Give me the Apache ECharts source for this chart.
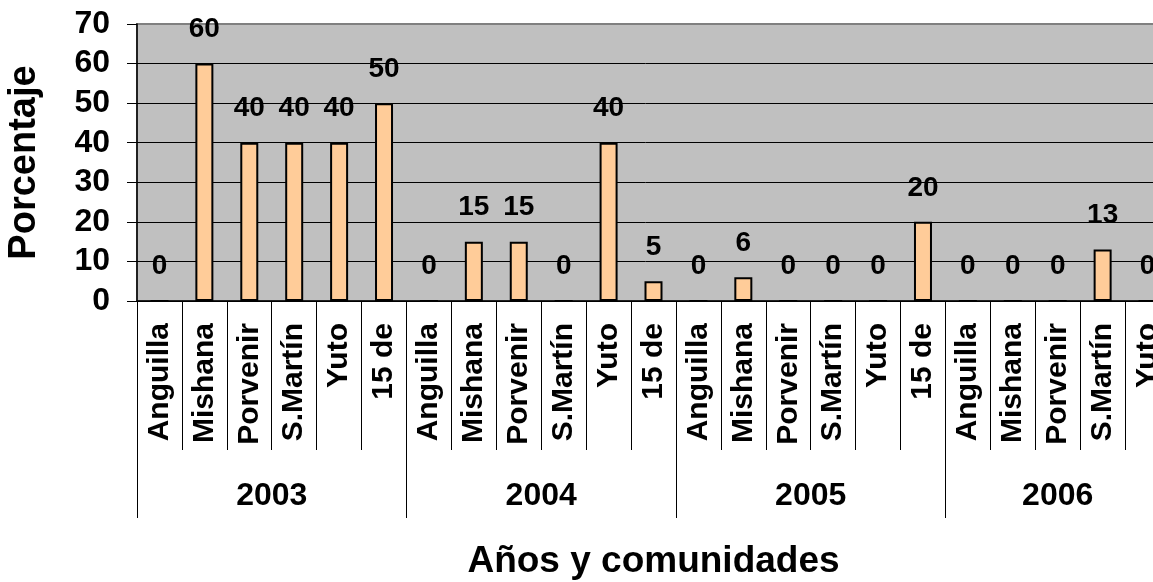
<!DOCTYPE html>
<html>
<head>
<meta charset="utf-8">
<script src="https://cdn.jsdelivr.net/npm/echarts@6/dist/echarts.min.js"></script>
<style>
html,body{margin:0;padding:0;background:#fff;overflow:hidden;}
#chart{width:1153px;height:582px;}
</style>
</head>
<body>
<div id="chart"></div>
<script>
// ---- data ----
const years = ['2003', '2004', '2005', '2006'];
const communities = ['Anguilla', 'Mishana', 'Porvenir', 'S.Martín', 'Yuto', '15 de'];
const values2003 = [0, 60, 40, 40, 40, 50];
const values2004 = [0, 15, 15, 0, 40, 5];
const values2005 = [0, 6, 0, 0, 0, 20];
const values2006 = [0, 0, 0, 13, 0];
const yTicks = [0, 10, 20, 30, 40, 50, 60, 70];

// ---- build ----
const valueGroups = [values2003, values2004, values2005, values2006];
const categories = [];
const values = [];
const boundaries = [0];
const centers = [];
const centerYear = {};
valueGroups.forEach((g, i) => {
  const start = boundaries[boundaries.length - 1];
  g.forEach((v, j) => { categories.push(communities[j]); values.push(v); });
  const end = start + g.length;
  boundaries.push(end);
  const c = (start + end) / 2;
  centers.push(c);
  centerYear[c] = years[i];
});
const total = categories.length;

const FONT = "'Liberation Sans', Arial, sans-serif";
const chart = echarts.init(document.getElementById('chart'), null, {renderer: 'canvas'});
chart.setOption({
  animation: false,
  backgroundColor: '#ffffff',
  grid: {
    left: 137, top: 24, width: 1033, height: 277,
    containLabel: false,
    outerBoundsMode: 'none',
    show: true, backgroundColor: '#C0C0C0',
    borderColor: '#808080', borderWidth: 2
  },
  xAxis: [
    {
      type: 'category',
      data: categories,
      boundaryGap: true,
      position: 'bottom',
      axisLine: {show: true, lineStyle: {color: '#000', width: 1.5}},
      axisTick: {show: true, alignWithLabel: false, inside: false, length: 149, interval: 0, lineStyle: {color: '#000', width: 1}},
      axisLabel: {interval: 0, rotate: 90, margin: 22, fontSize: 30, fontWeight: 'bold', color: '#000', fontFamily: FONT},
      splitLine: {show: false}
    },
    {
      type: 'value',
      min: 0, max: total,
      position: 'bottom',
      axisLine: {show: false},
      axisTick: {show: true, length: 217, customValues: boundaries, lineStyle: {color: '#000', width: 1}},
      axisLabel: {
        show: true, customValues: centers, margin: 179,
        fontSize: 32, fontWeight: 'bold', color: '#000', fontFamily: FONT,
        formatter: v => centerYear[v] || ''
      },
      splitLine: {show: false},
      name: 'Años y comunidades',
      nameLocation: 'middle',
      nameGap: 242,
      nameTextStyle: {fontSize: 37, fontWeight: 'bold', color: '#000', fontFamily: FONT}
    }
  ],
  yAxis: {
    type: 'value',
    min: yTicks[0], max: yTicks[yTicks.length - 1], interval: 10,
    axisLine: {show: true, lineStyle: {color: '#000', width: 1.5}},
    axisTick: {show: true, inside: false, length: 10, lineStyle: {color: '#000', width: 1}},
    axisLabel: {margin: 27, fontSize: 32, fontWeight: 'bold', color: '#000', fontFamily: FONT},
    splitLine: {show: true, showMaxLine: false, lineStyle: {color: '#000', width: 1}},
    name: 'Porcentaje',
    nameLocation: 'middle',
    nameGap: 93,
    nameTextStyle: {fontSize: 38, fontWeight: 'bold', color: '#000', fontFamily: FONT}
  },
  series: [{
    type: 'bar',
    xAxisIndex: 0,
    data: values,
    barWidth: 18,
    itemStyle: {color: '#FFCC99', borderColor: '#000', borderWidth: 2},
    label: {show: true, position: 'top', distance: 20, fontSize: 28, fontWeight: 'bold', color: '#000', fontFamily: FONT}
  }]
});
</script>
</body>
</html>
